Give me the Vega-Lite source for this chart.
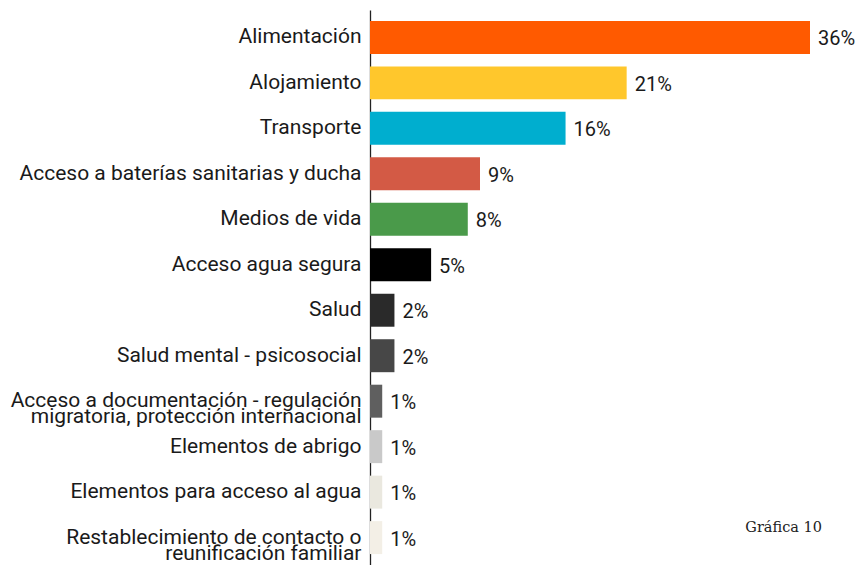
{
  "$schema": "https://vega.github.io/schema/vega-lite/v6.json",
  "autosize": "none",
  "width": 440,
  "height": 555,
  "padding": {"left": 370, "top": 10, "right": 50, "bottom": 0},
  "background": "white",
  "config": {"view": {"stroke": null}, "font": "Roboto"},
  "title": {
    "text": "Gráfica 10",
    "orient": "bottom",
    "anchor": "end",
    "frame": "group",
    "font": "DejaVu Serif",
    "fontSize": 14.5,
    "fontWeight": "normal",
    "color": "#222222",
    "dx": 12,
    "dy": -44,
    "offset": 0
  },
  "data": {
    "values": [
      {"categoria": "Alimentación", "valor": 36, "etiqueta": "36%", "orden": 1},
      {"categoria": "Alojamiento", "valor": 21, "etiqueta": "21%", "orden": 2},
      {"categoria": "Transporte", "valor": 16, "etiqueta": "16%", "orden": 3},
      {"categoria": "Acceso a baterías sanitarias y ducha", "valor": 9, "etiqueta": "9%", "orden": 4},
      {"categoria": "Medios de vida", "valor": 8, "etiqueta": "8%", "orden": 5},
      {"categoria": "Acceso agua segura", "valor": 5, "etiqueta": "5%", "orden": 6},
      {"categoria": "Salud", "valor": 2, "etiqueta": "2%", "orden": 7},
      {"categoria": "Salud mental - psicosocial", "valor": 2, "etiqueta": "2%", "orden": 8},
      {"categoria": "Acceso a documentación - regulación|migratoria, protección internacional", "valor": 1, "etiqueta": "1%", "orden": 9},
      {"categoria": "Elementos de abrigo", "valor": 1, "etiqueta": "1%", "orden": 10},
      {"categoria": "Elementos para acceso al agua", "valor": 1, "etiqueta": "1%", "orden": 11},
      {"categoria": "Restablecimiento de contacto o|reunificación familiar", "valor": 1, "etiqueta": "1%", "orden": 12}
    ]
  },
  "encoding": {
    "y": {
      "field": "categoria",
      "type": "nominal",
      "sort": {"field": "orden", "order": "ascending"},
      "scale": {"paddingInner": 0.275, "paddingOuter": 0.24},
      "axis": {
        "title": null,
        "ticks": false,
        "domain": true,
        "domainColor": "#222222",
        "domainWidth": 1.3,
        "labelFontSize": 21,
        "labelColor": "#1a1a1a",
        "labelPadding": 9,
        "labelLimit": 400,
        "labelLineHeight": 16,
        "labelExpr": "split(datum.label, '|')"
      }
    },
    "x": {
      "field": "valor",
      "type": "quantitative",
      "scale": {"domain": [0, 36], "nice": false},
      "axis": null
    }
  },
  "layer": [
    {
      "mark": {"type": "bar"},
      "encoding": {
        "color": {
          "field": "categoria",
          "type": "nominal",
          "legend": null,
          "scale": {
            "domain": [
              "Alimentación", "Alojamiento", "Transporte", "Acceso a baterías sanitarias y ducha",
              "Medios de vida", "Acceso agua segura", "Salud", "Salud mental - psicosocial",
              "Acceso a documentación - regulación|migratoria, protección internacional",
              "Elementos de abrigo", "Elementos para acceso al agua",
              "Restablecimiento de contacto o|reunificación familiar"
            ],
            "range": [
              "#FF5A00", "#FFC72C", "#00AECF", "#D35A45", "#4A9A4A", "#000000",
              "#2A2A2A", "#474747", "#5F5F5F", "#C9C9C9", "#EAE8DF", "#F3EFE6"
            ]
          }
        }
      }
    },
    {
      "mark": {"type": "text", "align": "left", "baseline": "middle", "dx": 8, "dy": 2, "fontSize": 20, "color": "#1a1a1a"},
      "encoding": {
        "text": {"field": "etiqueta", "type": "nominal"}
      }
    }
  ]
}
